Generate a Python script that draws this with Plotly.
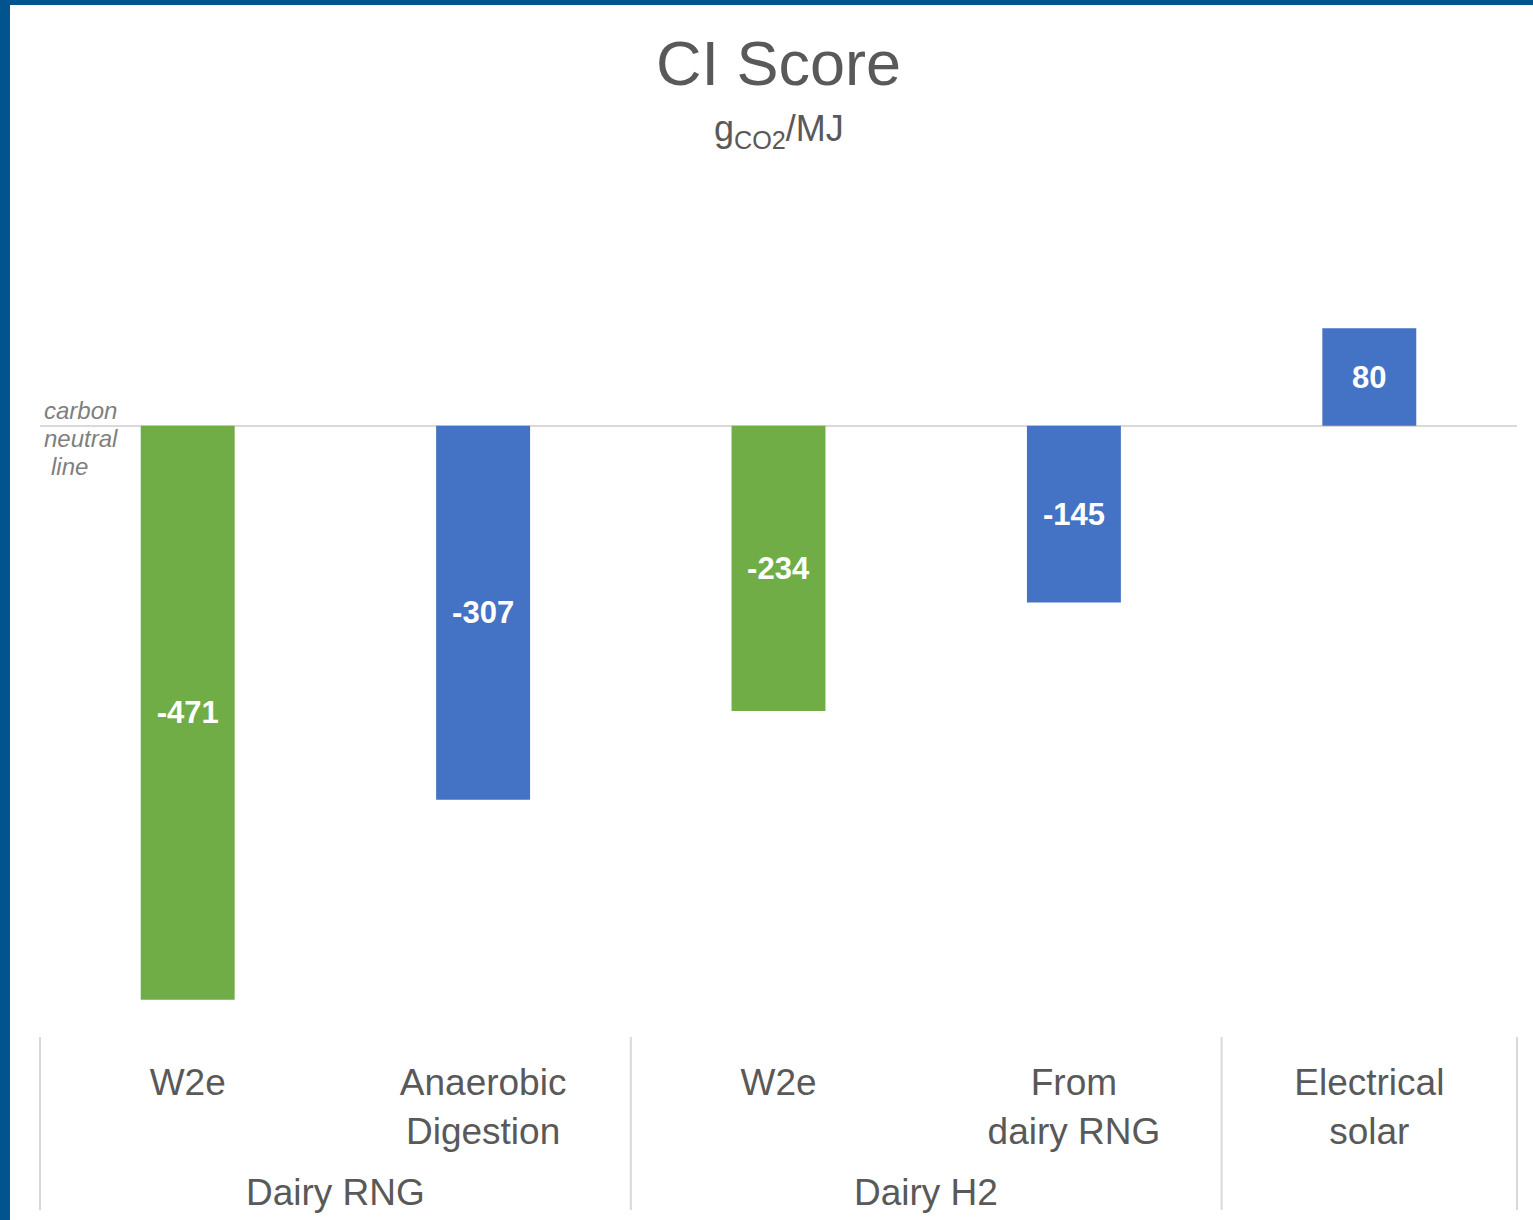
import plotly.graph_objects as go

# ---- data ----
categories = ["W2e", "Anaerobic<br>Digestion", "W2e", "From<br>dairy RNG", "Electrical<br>solar"]
values = [-471, -307, -234, -145, 80]
bar_colors = ["#70AD47", "#4472C4", "#70AD47", "#4472C4", "#4472C4"]
group_labels = ["Dairy RNG", "Dairy H2"]
group_members = [[0, 1], [2, 3]]
group_breaks = [-0.5, 1.5, 3.5, 4.5]

# ---- geometry ----
W, H = 1533, 1220
L, R = 40, 1517
T, B = 243, 1035
YMIN, YMAX = -500, 150

def px_y(p):
    return (B - p) / (B - T)

def px_x(p):
    return (p - L) / (R - L)

FONT = "Liberation Sans, Arial, sans-serif"
GRAY = "#595959"
n = len(categories)
xs = list(range(n))

fig = go.Figure()
fig.add_trace(go.Bar(
    x=xs, y=values, width=0.318,
    marker=dict(color=bar_colors, line=dict(width=0)),
    text=[f"<b>{v}</b>" for v in values],
    textposition="inside", insidetextanchor="middle", textangle=0,
    textfont=dict(color="white", size=31, family=FONT),
    hoverinfo="skip",
))

annotations = [
    dict(text="CI Score", x=0.5, y=px_y(63), xref="paper", yref="paper",
         showarrow=False, font=dict(size=63, color=GRAY, family=FONT),
         xanchor="center", yanchor="middle"),
    dict(text="g<sub>CO2</sub>/MJ", x=0.5, y=px_y(131), xref="paper", yref="paper",
         showarrow=False, font=dict(size=36, color=GRAY, family=FONT),
         xanchor="center", yanchor="middle"),
]
for txt, xp, yp in [("carbon", 42, 410), ("neutral", 42, 438), ("line", 49, 466)]:
    annotations.append(dict(text=txt, x=px_x(xp), y=px_y(yp), xref="paper", yref="paper",
                            showarrow=False, xanchor="left", yanchor="middle",
                            font=dict(size=24, color="#7F7F7F", family=FONT, style="italic")))
for lab, mem in zip(group_labels, group_members):
    annotations.append(dict(text=lab, x=sum(mem) / len(mem), y=px_y(1192), xref="x", yref="paper",
                            showarrow=False, xanchor="center", yanchor="middle",
                            font=dict(size=37, color=GRAY, family=FONT)))

shapes = []
for gb in group_breaks:
    xp = (gb + 0.5) / n
    shapes.append(dict(type="line", xref="paper", yref="paper", x0=xp, x1=xp,
                       y0=px_y(1037), y1=px_y(1210), line=dict(color="#D9D9D9", width=2)))
# frame border
shapes.append(dict(type="rect", xref="paper", yref="paper", x0=px_x(0), x1=px_x(10),
                   y0=px_y(H), y1=px_y(0), fillcolor="#02548F", line=dict(width=0)))
shapes.append(dict(type="rect", xref="paper", yref="paper", x0=px_x(0), x1=px_x(W),
                   y0=px_y(5), y1=px_y(0), fillcolor="#02548F", line=dict(width=0)))

fig.update_layout(
    width=W, height=H,
    margin=dict(l=L, r=W - R, t=T, b=H - B, pad=0),
    paper_bgcolor="white", plot_bgcolor="white",
    showlegend=False,
    annotations=annotations, shapes=shapes,
    xaxis=dict(range=[-0.5, n - 0.5], tickvals=xs, ticktext=categories,
               showgrid=False, zeroline=False, showline=False,
               ticks="outside", ticklen=15, tickcolor="rgba(0,0,0,0)",
               tickfont=dict(size=37, color=GRAY, family=FONT), fixedrange=True),
    yaxis=dict(range=[YMIN, YMAX], showgrid=False, showticklabels=False, ticks="",
               zeroline=True, zerolinecolor="#D9D9D9", zerolinewidth=2,
               showline=False, fixedrange=True),
)

fig.write_html("out.html", config={"displayModeBar": False},
               post_script="document.body.style.margin='0';")
